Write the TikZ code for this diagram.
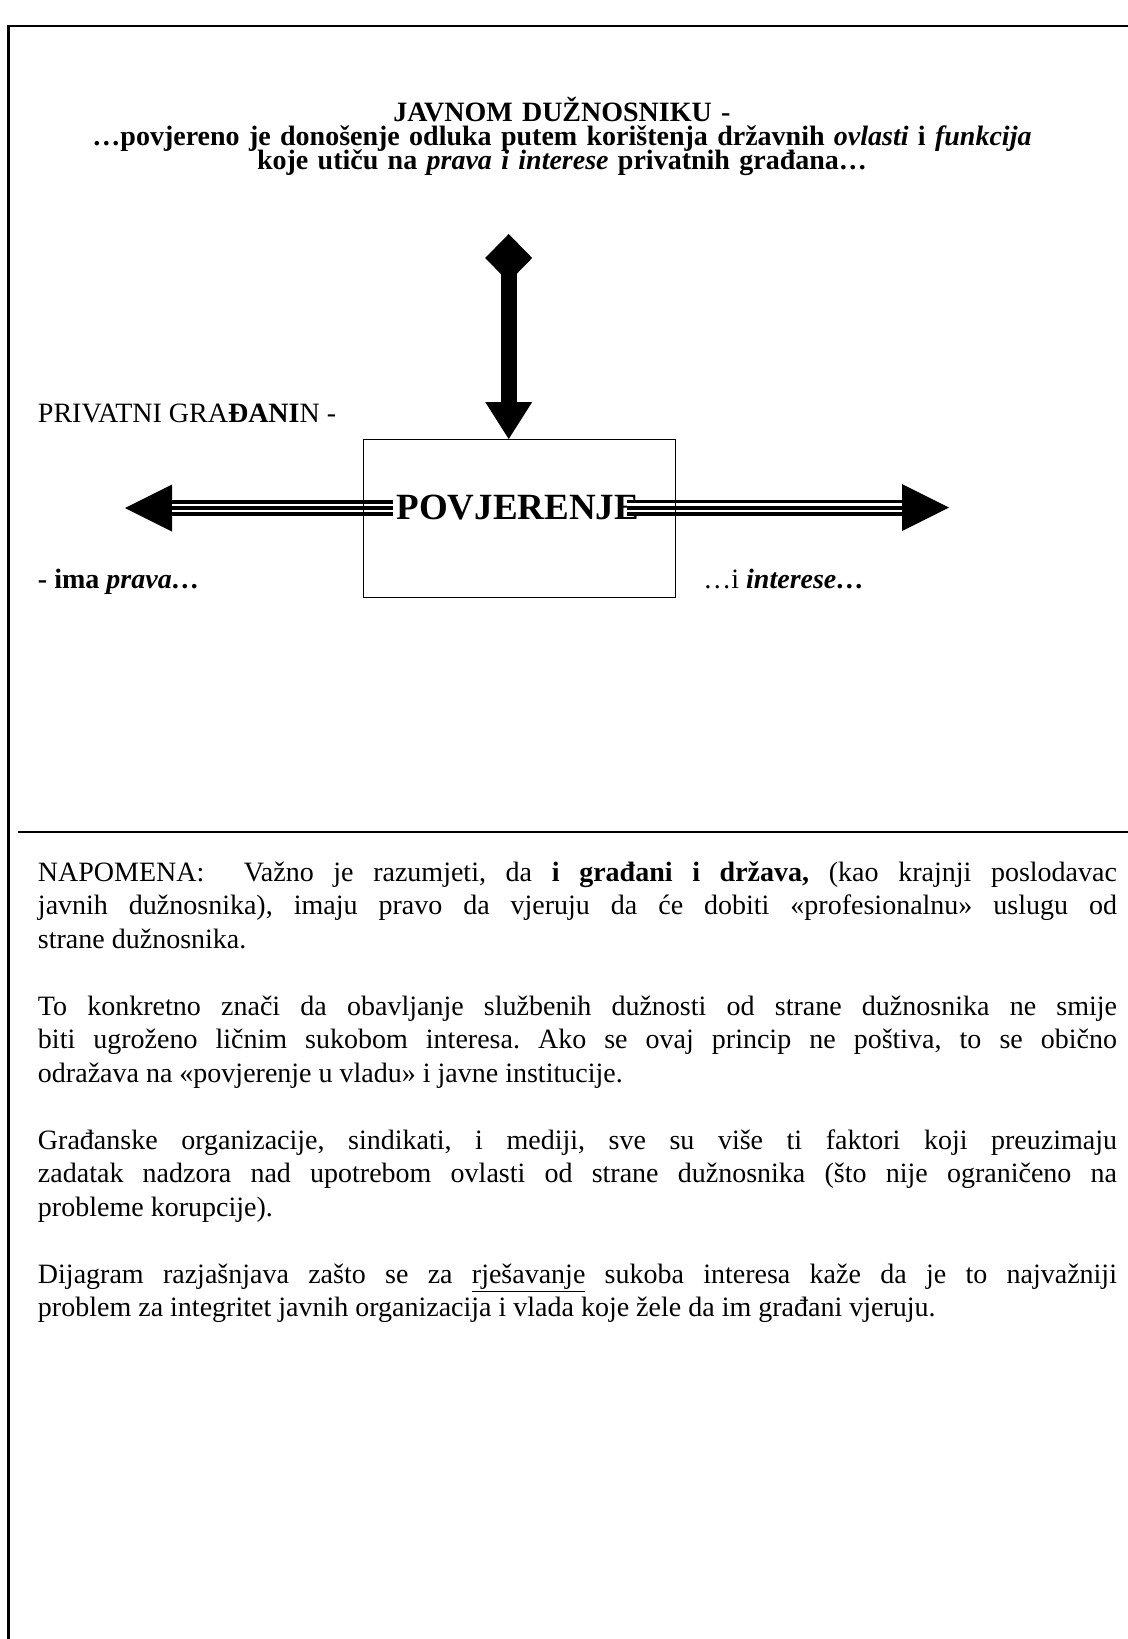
\documentclass[tikz,border=0pt]{standalone}
\usepackage{fontspec}
\setmainfont{Liberation Serif}
\newcommand{\parsetup}{\hyphenpenalty=10000 \tolerance=9999 \emergencystretch=2em\relax\frenchspacing}
\begin{document}
\begin{tikzpicture}[x=0.5pt,y=-0.5pt]
\tikzset{
  framestroke/.style={line width=1.2pt},
  sepline/.style={line width=1pt},
  titletext/.style={font=\fontsize{14}{12}\selectfont\bfseries, anchor=base, inner sep=0,
                    text width=564pt},
  lbl/.style={font=\fontsize{14}{14}\selectfont, anchor=base west, inner sep=0},
  para/.style={font=\fontsize{14}{16.75}\selectfont,
               anchor=base west, inner sep=0, text width=539.5pt, align=justify},
  trustbox/.style={draw, line width=0.65pt, inner sep=0, minimum width=156pt, minimum height=79pt, anchor=north west},
  trusttext/.style={font=\fontsize{18.5}{18.5}\selectfont\bfseries, anchor=base west, inner sep=0},
  vshaft/.style={line width=8pt},
  tripleline/.style={preaction={draw=black,line width=8pt}, draw=white, line width=1.2pt, double=black, double distance=2pt},
}
\useasboundingbox (0,0) rectangle (1128,1639);
% frame
\draw[framestroke] (8.5,1639) -- (8.5,26) -- (1128,26);
\draw[sepline] (18,832) -- (1128,832);

% title
\node[titletext] (title) at (562,121) {\centering\baselineskip=12pt\lineskiplimit=-100pt\lineskip=0pt\relax
JAVNOM DUŽNOSNIKU -\par
…povjereno je donošenje odluka putem korištenja državnih \textit{ovlasti} i \textit{funkcija}\par
koje utiču na \textit{prava i interese} privatnih građana…\par};

% labels
\node[lbl] (priv) at (37.6,422) {PRIVATNI GRA\textbf{ĐANI}N -};
\node[lbl, font=\fontsize{14}{14}\selectfont\bfseries] (ima) at (37.6,588) {- ima \textit{prava…}};
\node[lbl] (intr) at (703,588) {…i \textbf{\textit{interese…}}};

% central text
\node[trusttext] (trust) at (396,519) {POVJERENJE};

% vertical arrow
\coordinate (vtop) at (508.7,234);
\coordinate (vtip) at (508.7,439);
\fill (vtop) -- ++(23.5,24) -- ++(-23.5,24) -- ++(-23.5,-24) -- cycle;
\draw[vshaft] ([yshift=-20pt]vtop) -- ([yshift=18.5pt]vtip);
\fill (vtip) -- ++(-23.5,-37) -- ++(47,0) -- cycle;

% left arrow
\coordinate (ltip) at (125,508);
\coordinate (lend) at (393,508);
\fill (ltip) -- ++(47,-23.5) -- ++(0,47) -- cycle;
\draw[tripleline] ([xshift=23.5pt]ltip) -- (lend);

% right arrow
\coordinate (rstart) at (627,507.5);
\coordinate (rtip) at (949,507.5);
\draw[tripleline] (rstart) -- ([xshift=-23.5pt]rtip);
\fill (rtip) -- ++(-47,-23.5) -- ++(0,47) -- cycle;

% box
\node[trustbox] (box) at (363,439) {};

% body
\node[para] (p1) at (37.6,881) {\parsetup NAPOMENA:\ \ Važno je razumjeti, da \textbf{i građani i država,} (kao krajnji poslodavac\linebreak
javnih dužnosnika), imaju pravo da vjeruju da će dobiti «profesionalnu» uslugu od\linebreak
strane dužnosnika.};
\node[para] (p2) at (37.6,1015) {\parsetup To konkretno znači da obavljanje službenih dužnosti od strane dužnosnika ne smije\linebreak
biti ugroženo ličnim sukobom interesa. Ako se ovaj princip ne poštiva, to se obično\linebreak
odražava na «povjerenje u vladu» i javne institucije.};
\node[para] (p3) at (37.6,1149) {\parsetup Građanske organizacije, sindikati, i mediji, sve su više ti faktori koji preuzimaju\linebreak
zadatak nadzora nad upotrebom ovlasti od strane dužnosnika (što nije ograničeno na\linebreak
probleme korupcije).};
\node[para] (p4) at (37.6,1283) {\parsetup Dijagram razjašnjava zašto se za \underline{rješavanje} sukoba interesa kaže da je to najvažniji\linebreak
problem za integritet javnih organizacija i vlada koje žele da im građani vjeruju.};
\end{tikzpicture}
\end{document}
